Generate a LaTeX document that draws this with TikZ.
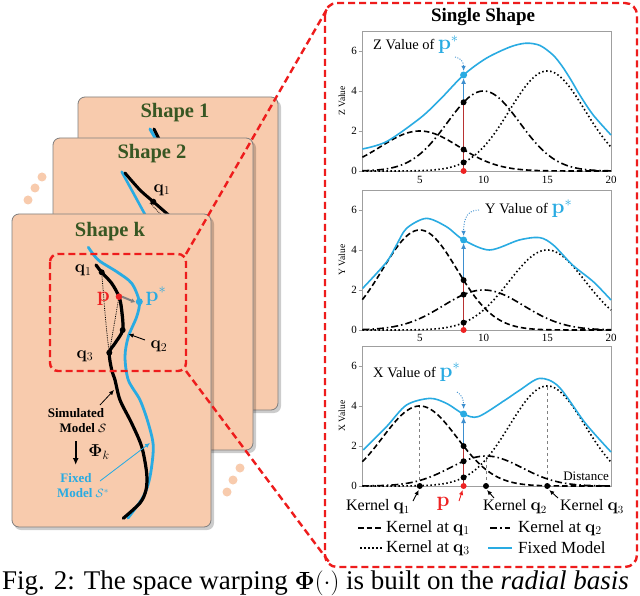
\documentclass[tikz,border=0pt]{standalone}
\usepackage[no-math]{fontspec}
\setmainfont{Liberation Serif}
\usepackage{amsmath}
\usetikzlibrary{arrows.meta}
\definecolor{peach}{HTML}{F8CBAD}
\definecolor{cardgray}{HTML}{7F7F7F}
\definecolor{titlegreen}{HTML}{385723}
\definecolor{zred}{HTML}{EE1C1C}
\definecolor{mblue}{HTML}{29ABE2}
\definecolor{pred}{HTML}{EE2222}
\definecolor{vred}{HTML}{B83232}
\definecolor{vblue}{HTML}{3D8FCF}
\newcommand\kerncurve[5]{\draw[#1] plot[domain=0.5:20,samples=120,variable=\t] ({356+12.75*\t},{#2-20*gk(\t,#3,#4,#5)});}
\newcommand\kerndot[4]{\fill (463.6,{#1-20*gk(8.44,#2,#3,#4)}) circle (3pt);}
\newcommand\pstarlbl{\textcolor{mblue}{\fontsize{21}{21}\selectfont$\mathbf{p}^{*}$}}
\tikzset{
 card/.style={fill=peach, draw=cardgray, line width=0.8pt, rounded corners=7pt},
 shadowbox/.style={fill=black, opacity=0.2, rounded corners=7pt},
 cardtitle/.style={text=titlegreen, font=\fontsize{20.5}{24}\selectfont\bfseries},
 zoomline/.style={draw=zred, line width=2.4pt, dash pattern=on 7pt off 4pt},
 ker1/.style={line width=1.6pt, dash pattern=on 5.5pt off 3pt},
 ker2/.style={line width=1.6pt, dash pattern=on 7pt off 3pt on 1.5pt off 3pt},
 ker3/.style={line width=1.6pt, dash pattern=on 1.5pt off 2.5pt},
 fixed/.style={line width=1.6pt, draw=mblue},
 frame/.style={draw=gray!75, line width=0.7pt},
 ticklbl/.style={font=\fontsize{11}{12}\selectfont},
 axlbl/.style={font=\fontsize{9.5}{10}\selectfont, rotate=90},
 annot/.style={font=\fontsize{14.5}{16}\selectfont, anchor=base west, inner sep=0pt},
 annarrow/.style={draw=vblue, line width=0.9pt, dash pattern=on 1pt off 1.5pt, -{Latex[length=5pt,width=4.5pt]}},
 vredline/.style={draw=vred, line width=1.2pt},
 varrow/.style={draw=vblue, line width=1.2pt, -{Latex[length=6pt,width=5pt]}},
 lbl/.style={font=\fontsize{16}{18}\selectfont},
 leg/.style={font=\fontsize{17}{19}\selectfont, anchor=west, inner sep=0pt},
 smallarrow/.style={line width=0.9pt, -{Latex[length=5pt,width=4.5pt]}},
 cardline/.style={line width=3pt, line cap=round, line join=round},
 cardtext/.style={font=\fontsize{13}{15}\selectfont\bfseries},
 qlbl/.style={font=\fontsize{17}{18}\selectfont},
}
\begin{document}
\begin{tikzpicture}[x=1pt,y=-1pt,
  declare function={gk(\t,\c,\a,\s)=\a*exp(-((\t-\c)^2)/\s);}]
\useasboundingbox (0,0) rectangle (640,596);
\clip (0,0) rectangle (640,596);
\fill[white] (0,0) rectangle (640,596);

% ---------------- cards ----------------
\fill[shadowbox] (80,100) rectangle (281,413);
\draw[card] (78,97) rectangle (278,410);
\node[cardtitle] (t1) at (175,113) {Shape 1};
\draw[cardline, mblue] (150,129) -- (157,141);
\draw[cardline, black] (154,129) -- (160,141);

\fill[shadowbox] (55,141) rectangle (256,453);
\draw[card] (53,138) rectangle (253,450);
\node[cardtitle] (t2) at (152,154) {Shape 2};
\draw[cardline, mblue, line width=2.6pt] (121.7,171.7) -- (148,220);
\draw[cardline, black] plot[smooth] coordinates {(125,173) (140,190) (153.3,201.7) (172,218)};
\draw[densely dotted, line width=0.8pt] (150,203) -- (166,220);
\fill (153.3,201.7) circle (3pt);
\node[qlbl] (q1b) at (162,190) {$\mathbf{q}_1$};

\fill[shadowbox] (14,217) rectangle (214,530);
\draw[card] (12,214) rectangle (211,527);
\node[cardtitle] (tk) at (110,232) {Shape k};

% ellipsis dots
\foreach \p in {(42,177),(35,188),(28,200),(240,468),(233,480),(227,492)}
  \fill[peach] \p circle (4.5pt);

% curves in card k
\draw[cardline, mblue, line width=2.8pt] plot[smooth] coordinates {(88.3,247.3) (98.3,260) (116.7,271.7) (131.7,283.3) (139.3,301.7) (136.7,316.7) (128.3,336.7) (125,356.7) (128.3,380) (140,400) (148.3,423.3) (153.3,446.7) (150,476.7) (143.3,496.7) (128,518)};
\draw[cardline, black, line width=3.2pt] plot[smooth] coordinates {(96,265) (101.7,272.3) (111.7,283.3) (119,296.7) (121.7,310) (122.7,330) (115,343.3) (109.3,352.7) (111.7,370) (115,380) (120,400) (131.7,423.3) (141.7,446.7) (146.7,473.3) (146,490) (140,503) (123.3,518.3)};
\coordinate (kq1) at (101.7,272.3);
\coordinate (kq2) at (122.7,330);
\coordinate (kq3) at (109.3,352.7);
\coordinate (kp) at (119,296.7);
\coordinate (kps) at (139.3,301.7);
\draw[densely dotted, line width=0.8pt] (kq1) .. controls (104,300) and (106,330) .. (kq3);
\draw[densely dotted, line width=0.8pt] (kp) -- (kq3);
\draw[densely dotted, line width=0.8pt] (kp) -- (kq2);
\fill (kq1) circle (3pt);
\fill (kq2) circle (3pt);
\fill (kq3) circle (3pt);
\fill[pred] (kp) circle (3.3pt);
\fill[mblue] (kps) circle (3.5pt);
\draw[gray, line width=2pt, -{Latex[length=4pt,width=5pt]}] ([xshift=3pt]kp) -- ([xshift=-4pt,yshift=-0.5pt]kps);
\node[qlbl] (lq1) at (83.3,270.7) {$\mathbf{q}_1$};
\node[qlbl] (lq3) at (85,356) {$\mathbf{q}_3$};
\node[qlbl] (lq2) at (159,346.7) {$\mathbf{q}_2$};
\node[text=pred, font=\fontsize{20}{20}\selectfont] (lp) at (103.3,299) {$\mathbf{p}$};
\node[text=mblue, font=\fontsize{20}{20}\selectfont] (lps) at (156,296) {$\mathbf{p}^{*}$};
\coordinate (q2tail) at (145,340);
\coordinate (q2head) at (128.5,334);
\draw[smallarrow] (q2tail) -- (q2head);

\node[cardtext] (sim1) at (76,413) {Simulated};
\node[cardtext] (sim2) at (83,428) {Model $\mathcal{S}$};
\coordinate (simhead) at (114,390);
\draw[smallarrow, line width=0.8pt] (100,405) -- (simhead);
\coordinate (phitop) at (75.7,441);
\coordinate (phibot) at (75.7,465);
\draw[line width=1.6pt, -{Latex[length=7pt,width=6pt]}] (phitop) -- (phibot);
\node[font=\fontsize{18}{18}\selectfont] (phi) at (99,452) {$\boldsymbol{\Phi}_{k}$};
\node[cardtext, text=mblue] (fx1) at (76,478) {Fixed};
\node[cardtext, text=mblue] (fx2) at (83,493) {Model $\mathcal{S}^{*}$};
\coordinate (fxhead) at (150,443);
\draw[smallarrow, draw=mblue, fill=mblue, line width=0.8pt] (100,481) -- (fxhead);

% small zoom box
\draw[zoomline, rounded corners=8pt] (50,254) rectangle (186,371);
\coordinate (zbTR) at (186,254);
\coordinate (zbBR) at (186,371);
\coordinate (bigTL) at (327,9);
\coordinate (bigBL) at (329,562);
\draw[zoomline] (zbTR) -- (bigTL);
\draw[zoomline] (zbBR) -- (bigBL);
\draw[zoomline, rounded corners=12pt] (325,3) rectangle (637,567);

\node[font=\fontsize{19}{21}\selectfont\bfseries] (title) at (483,17) {Single Shape};

% ---------------- Z plot ----------------
\draw[frame] (362,31) rectangle (611,171);
\foreach \v in {0,2,4,6} {
  \draw[gray!75, line width=0.6pt] (358.5,171-20*\v) -- (362,171-20*\v);
  \node[ticklbl, anchor=east, inner sep=1pt] at (358,171-20*\v) {\v};
}
\foreach \v in {5,10,15,20}
  \node[ticklbl] at ({356+12.75*\v},180) {\v};
\node[axlbl] (zax) at (342,101) {Z Value};
\kerncurve{ker1}{171}{5}{2}{19}
\kerncurve{ker2}{171}{10}{4}{16}
\kerncurve{ker3}{171}{15}{5}{17.5}
\draw[fixed] plot[smooth] coordinates {(362.4,149) (386.6,141.6) (419.75,118.4) (439.6,100) (463.6,75) (486.05,58.4) (510,47) (526,43.2) (540,45.5) (553,55) (562,66) (571,80) (580.4,96) (593.2,115) (611,135)};
\coordinate (zbase) at (463.6,171);
\coordinate (ztop) at (463.6,102.4);
\coordinate (zstar) at (463.6,75);
\draw[vredline] (zbase) -- (ztop);
\draw[varrow] (ztop) -- ([yshift=-3pt]zstar);
\kerndot{171}{5}{2}{19}
\kerndot{171}{10}{4}{16}
\kerndot{171}{15}{5}{17.5}
\fill[pred] (zbase) circle (3pt);
\fill[mblue] (zstar) circle (3.5pt);
\node[annot] (zann) at (373,50) {Z Value of \pstarlbl};
\draw[annarrow] (455,57) .. controls (461,58) and (463.6,62) .. (463.6,71);

% ---------------- Y plot ----------------
\draw[frame] (362,190) rectangle (611,330);
\foreach \v in {0,2,4,6} {
  \draw[gray!75, line width=0.6pt] (358.5,330-20*\v) -- (362,330-20*\v);
  \node[ticklbl, anchor=east, inner sep=1pt] at (358,330-20*\v) {\v};
}
\foreach \v in {5,10,15,20}
  \node[ticklbl] at ({356+12.75*\v},338) {\v};
\node[axlbl] (yax) at (342,260) {Y Value};
\kerncurve{ker1}{330}{5}{5}{17}
\kerncurve{ker2}{330}{10}{2}{20}
\kerncurve{ker3}{330}{15}{4}{18}
\draw[fixed] plot[smooth] coordinates {(362.6,288.4) (386.6,262) (396.5,245) (406.5,228.4) (426.1,218.4) (446.3,226.6) (463.6,240) (489.5,250) (519.2,240) (539.6,237.6) (553.3,245) (572.5,265) (593.3,281.7) (611,300)};
\coordinate (ybase) at (463.6,330);
\coordinate (ytop) at (463.6,280.2);
\coordinate (ystar) at (463.6,240);
\draw[vredline] (ybase) -- (ytop);
\draw[varrow] (ytop) -- ([yshift=-3pt]ystar);
\kerndot{330}{5}{5}{17}
\kerndot{330}{10}{2}{20}
\kerndot{330}{15}{4}{18}
\fill[pred] (ybase) circle (3pt);
\fill[mblue] (ystar) circle (3.5pt);
\node[annot] (yann) at (485,214) {Y Value of \pstarlbl};
\draw[annarrow] (479,210) .. controls (469,210) and (463.6,216) .. (463.6,236);

% ---------------- X plot ----------------
\draw[frame] (362,346) rectangle (611,486);
\foreach \v in {0,2,4,6} {
  \draw[gray!75, line width=0.6pt] (358.5,486-20*\v) -- (362,486-20*\v);
  \node[ticklbl, anchor=east, inner sep=1pt] at (358,486-20*\v) {\v};
}
\node[axlbl] (xax) at (342,416) {X Value};
\draw[gray, line width=0.8pt, dashed] (419.75,486) -- (419.75,406);
\draw[gray, line width=0.8pt, dashed] (486,486) -- (486,456);
\draw[gray, line width=0.8pt, dashed] (547.25,486) -- (547.25,386);
\kerncurve{ker1}{486}{5}{4}{17}
\kerncurve{ker2}{486}{10.2}{1.5}{16}
\kerncurve{ker3}{486}{15}{5}{17.5}
\draw[fixed] plot[smooth] coordinates {(363.3,450) (386.6,426.6) (406.5,405) (430,398.4) (446.5,403.4) (463.6,414) (478.4,416.6) (505.2,400) (520,390) (539.6,378.4) (558.7,386.6) (585.5,423.4) (611,452)};
\coordinate (xbase) at (463.6,486);
\coordinate (xtop) at (463.6,446.2);
\coordinate (xstar) at (463.6,414);
\draw[vredline] (xbase) -- (xtop);
\draw[varrow] (xtop) -- ([yshift=-3pt]xstar);
\kerndot{486}{5}{4}{17}
\kerndot{486}{10.2}{1.5}{16}
\kerndot{486}{15}{5}{17.5}
\coordinate (kd1) at (419.75,486);
\coordinate (kd2) at (486,486);
\coordinate (kd3) at (547.25,486);
\fill (kd1) circle (3pt);
\fill (kd2) circle (3pt);
\fill (kd3) circle (3pt);
\fill[pred] (xbase) circle (3pt);
\fill[mblue] (xstar) circle (3.5pt);
\node[annot] (xann) at (373,377) {X Value of \pstarlbl};
\draw[annarrow] (457,392) .. controls (462,395) and (463.6,400) .. (463.6,409);
\node[font=\fontsize{13}{14}\selectfont, anchor=east, inner sep=0pt] (dist) at (609,476) {Distance};

% kernel labels
\node[lbl] (kl1) at (378,507) {Kernel $\mathbf{q}_1$};
\node[lbl] (kl2) at (515,507) {Kernel $\mathbf{q}_2$};
\node[lbl] (kl3) at (592,507) {Kernel $\mathbf{q}_3$};
\node[text=pred, font=\fontsize{20}{20}\selectfont] (plbl) at (443,504) {$\mathbf{p}$};
\draw[smallarrow] (413,501) -- ([shift={(-1pt,-4pt)}]kd1);
\draw[smallarrow, draw=pred, fill=pred] (459,501) -- ([shift={(-1pt,-4pt)}]xbase);
\draw[smallarrow] (494,498) -- ([shift={(1pt,-4pt)}]kd2);
\draw[smallarrow] (558,498) -- ([shift={(2pt,-4pt)}]kd3);

% legend
\draw[ker1] (358,528) -- (382,528);
\node[leg] (lg1) at (386,528) {Kernel at $\mathbf{q}_1$};
\draw[ker2] (490,528) -- (510,528);
\node[leg] (lg2) at (518,528) {Kernel at $\mathbf{q}_2$};
\draw[ker3] (360,548) -- (382,548);
\node[leg] (lg3) at (386,548) {Kernel at $\mathbf{q}_3$};
\draw[fixed] (488,548) -- (512,548);
\node[leg] (lg4) at (518,548) {Fixed Model};

% caption
\node[anchor=base west, inner sep=0pt, font=\fontsize{27}{30}\selectfont] (cap) at (2,589) {Fig. 2: The space warping $\boldsymbol{\Phi}(\cdot)$ is built on the \textit{radial basis}};
\end{tikzpicture}
\end{document}
